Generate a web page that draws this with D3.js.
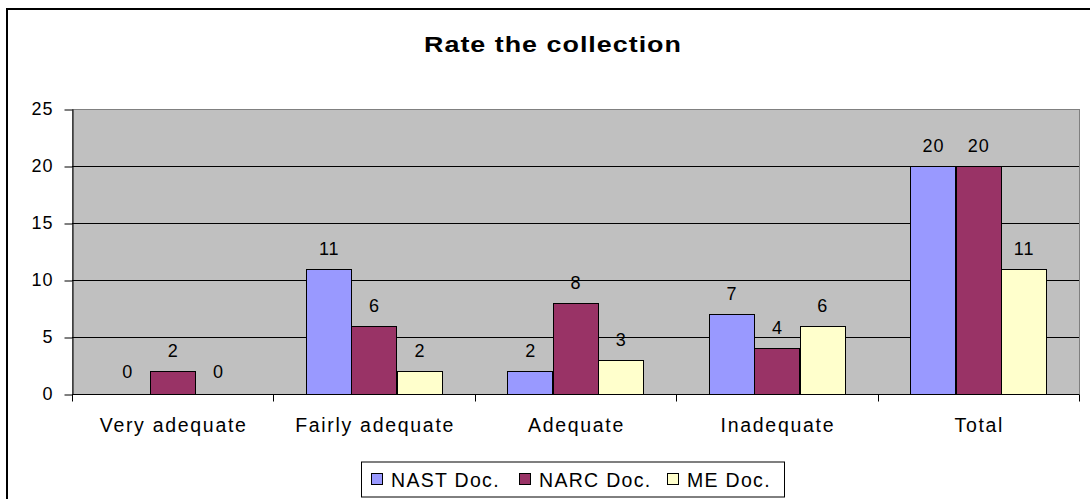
<!DOCTYPE html>
<html><head><meta charset="utf-8">
<script src="https://cdn.jsdelivr.net/npm/d3@7"></script>
<style>body{margin:0;background:#fff}svg{display:block}text{font-family:"Liberation Sans",Arial,sans-serif;fill:#000}</style>
</head><body><svg id="c" width="1090" height="499"></svg>
<script>
const categories = ["Very adequate","Fairly adequate","Adequate","Inadequate","Total"];
const seriesNames = ["NAST Doc.","NARC Doc.","ME Doc."];
const nast = [0,11,2,7,20];
const narc = [2,6,8,4,20];
const me = [0,2,3,6,11];
const yTicks = [0,5,10,15,20,25];
const colors = ["#9999FF","#993366","#FFFFCC"];
const series = [nast, narc, me];

const svg = d3.select("#c");
const L=72, R=1079, T=109, B=394;
// outer frame
svg.append("rect").attr("x",7).attr("y",9).attr("width",1100).attr("height",520)
  .attr("fill","none").attr("stroke","#000").attr("stroke-width",2);
svg.append("g").attr("transform","translate(553,51.5) scale(1.25,1)")
  .append("text").attr("x",0).attr("y",0).attr("text-anchor","middle")
  .attr("font-weight","bold").attr("font-size",21.5).attr("letter-spacing",0.8).text("Rate the collection");

const x0 = d3.scaleBand().domain(categories).range([L,R]).paddingInner(0).paddingOuter(0);
const x1 = d3.scaleBand().domain(seriesNames).range([0,x0.bandwidth()]).paddingInner(0).paddingOuter(0.72);
const y = d3.scaleLinear().domain([0,25]).range([B,T]);

svg.append("rect").attr("x",L+0.5).attr("y",T+0.5).attr("width",R-L).attr("height",B-T)
  .attr("fill","#C0C0C0").attr("stroke","#808080").attr("stroke-width",1);
svg.append("g").selectAll("line").data(yTicks.filter(d=>d>0 && d<25)).join("line")
  .attr("x1",L).attr("x2",R).attr("y1",d=>Math.round(y(d))+0.5).attr("y2",d=>Math.round(y(d))+0.5)
  .attr("stroke","#000").attr("stroke-width",1);

const g = svg.append("g");
categories.forEach((c,i)=>{
  series.forEach((s,j)=>{
    const v=s[i];
    const bx = x0(c)+x1(seriesNames[j]);
    if(v>0){
      g.append("rect").attr("x",Math.round(bx)+0.5).attr("y",Math.round(y(v))+0.5)
        .attr("width",Math.round(x1.bandwidth())).attr("height",Math.round(y(0))-Math.round(y(v)))
        .attr("fill",colors[j]).attr("stroke","#000").attr("stroke-width",1);
    }
    g.append("text").attr("x",bx+x1.bandwidth()/2+0.5).attr("y",y(v)-(v>0?14:16))
      .attr("text-anchor","middle").attr("font-size",18).attr("letter-spacing",1).text(v);
  });
});

// y axis
const ya = svg.append("g").attr("transform",`translate(${L+0.5},0)`)
  .call(d3.axisLeft(y).tickValues(yTicks).tickSize(8).tickSizeOuter(0).tickPadding(11));
ya.selectAll("text").attr("font-size",18).attr("fill","#000").attr("letter-spacing",1)
  .attr("font-family","Liberation Sans, Arial, sans-serif");
ya.selectAll("line,path").attr("stroke","#000");
ya.selectAll(".tick line").attr("transform","translate(0,0.5)");
// x axis
const xa = svg.append("g").attr("transform",`translate(0,${B+0.5})`);
xa.append("line").attr("x1",L).attr("x2",R).attr("stroke","#000");
xa.selectAll("line.t").data(categories.map(c=>x0(c)).concat([R])).join("line").attr("class","t")
  .attr("x1",d=>Math.round(d)+0.5).attr("x2",d=>Math.round(d)+0.5).attr("y1",0).attr("y2",7).attr("stroke","#000");
xa.selectAll("text").data(categories).join("text").attr("x",d=>x0(d)+x0.bandwidth()/2+1).attr("y",37.5)
  .attr("text-anchor","middle").attr("font-size",19.5).attr("letter-spacing",1.7).text(d=>d);

// legend
const lg = svg.append("g");
lg.append("rect").attr("x",361.5).attr("y",462).attr("width",423).attr("height",35)
  .attr("fill","#fff").attr("stroke","#000");
const lx=[371,519,667];
seriesNames.forEach((n,j)=>{
  lg.append("rect").attr("x",lx[j]+0.5).attr("y",473.5).attr("width",11).attr("height",11)
    .attr("fill",colors[j]).attr("stroke","#000");
  lg.append("text").attr("x",lx[j]+20).attr("y",486.5).attr("font-size",19.5).attr("letter-spacing",1.3).text(n);
});
</script></body></html>
